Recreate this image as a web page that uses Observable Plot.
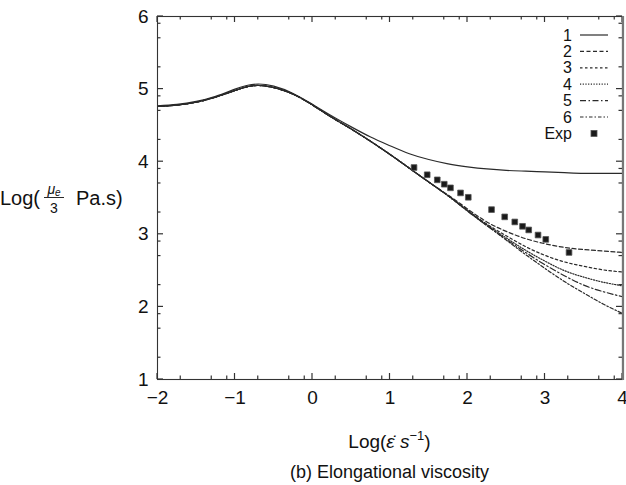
<!DOCTYPE html>
<html><head><meta charset="utf-8">
<script src="https://cdn.jsdelivr.net/npm/d3@7"></script>
<script src="https://cdn.jsdelivr.net/npm/@observablehq/plot@0.6"></script>
<style>
body{margin:0;background:#fff}
svg{display:block}
</style>
</head><body><div id="chart"></div>
<script>
// ---- data ----
const xs = [-2,-1.75,-1.5,-1.25,-1,-0.85,-0.7,-0.5,-0.25,0,0.25,0.5,0.75,1,1.25,1.5,1.75,2,2.25,2.5,2.75,3,3.25,3.5,3.75,4];
const curve1 = [4.77,4.79,4.83,4.90,5.00,5.05,5.07,5.04,4.94,4.79,4.63,4.48,4.34,4.22,4.11,4.03,3.97,3.93,3.90,3.88,3.87,3.86,3.85,3.84,3.84,3.84];
const curve2 = [4.76,4.78,4.82,4.89,4.98,5.03,5.05,5.02,4.93,4.78,4.61,4.45,4.28,4.10,3.91,3.72,3.54,3.35,3.17,3.04,2.94,2.87,2.82,2.79,2.77,2.75];
const curve3 = [4.76,4.78,4.82,4.89,4.98,5.03,5.05,5.02,4.93,4.78,4.61,4.45,4.28,4.10,3.91,3.72,3.53,3.33,3.14,2.98,2.83,2.71,2.62,2.56,2.51,2.48];
const curve4 = [4.76,4.78,4.82,4.89,4.98,5.03,5.05,5.02,4.93,4.78,4.61,4.45,4.28,4.10,3.91,3.72,3.53,3.33,3.13,2.95,2.78,2.63,2.50,2.41,2.34,2.29];
const curve5 = [4.76,4.78,4.82,4.89,4.98,5.03,5.05,5.02,4.93,4.78,4.61,4.45,4.28,4.10,3.91,3.72,3.53,3.32,3.12,2.93,2.75,2.58,2.43,2.30,2.21,2.14];
const curve6 = [4.76,4.78,4.82,4.89,4.98,5.03,5.05,5.02,4.93,4.78,4.61,4.45,4.28,4.10,3.91,3.72,3.53,3.32,3.12,2.92,2.72,2.53,2.35,2.19,2.04,1.91];
const expX = [1.31,1.48,1.61,1.70,1.78,1.91,2.01,2.31,2.48,2.61,2.71,2.79,2.91,3.01,3.31];
const expY = [3.92,3.82,3.75,3.69,3.64,3.57,3.51,3.34,3.24,3.17,3.11,3.06,2.99,2.93,2.75];
const seriesNames = ["1","2","3","4","5","6"];
const expName = "Exp";
const xMajor = [-2,-1,0,1,2,3,4];
const yMajor = [1,2,3,4,5,6];
const xMinor = [-1.7,-1.3,-1.1,-0.7,-0.3,-0.1,0.3,0.7,0.9,1.3,1.7,1.9,2.3,2.7,2.9,3.3,3.7,3.9];
const yMinor = [1.3,1.7,1.9,2.3,2.7,2.9,3.3,3.7,3.9,4.3,4.7,4.9,5.3,5.7,5.9];

// ---- styles ----
const FONT = '"Liberation Sans", Arial, Helvetica, sans-serif';
const INK = "#2a2a2a";
const dashes = [null, "4,2.5", "2.5,2.5", "1.2,1.5", "6,2.5,1.5,2.5", "3.5,2,1.5,2"];
const curves = [curve1, curve2, curve3, curve4, curve5, curve6];

const exp = expX.map((x, i) => ({x, y: expY[i]}));
const fmt = d => String(d).replace("-", "−");

const chart = Plot.plot({
  width: 626, height: 485,
  marginTop: 16, marginBottom: 106, marginLeft: 157, marginRight: 4,
  x: {domain: [-2, 4]},
  y: {domain: [1, 6]},
  style: {fontFamily: FONT, fontSize: "18px", color: "#111", background: "#fff", overflow: "visible"},
  marks: [
    ...curves.map((c, k) => Plot.line(xs.map((x, i) => ({x, y: c[i]})), {
      x: "x", y: "y", stroke: INK, strokeWidth: 1.2, strokeDasharray: dashes[k], curve: "natural"
    })),
    Plot.dot(exp, {x: "x", y: "y", symbol: "square", r: 3.2, fill: "#1a1a1a", stroke: "#555", strokeWidth: 0.8}),
    Plot.axisX({anchor: "bottom", ticks: xMajor, tickSize: 0, tickPadding: 11, tickFormat: fmt, label: null, fontSize: 19}),
    Plot.axisY({anchor: "left", ticks: yMajor, tickSize: 0, tickPadding: 9, tickFormat: fmt, label: null, fontSize: 19}),
    Plot.frame({stroke: "#333", strokeWidth: 1.1})
  ]
});
document.getElementById("chart").append(chart);

const svg = d3.select(chart);
const sx = chart.scale("x");
const sy = chart.scale("y");
const L = sx.apply(-2), R = sx.apply(4), T = sy.apply(6), B = sy.apply(1);
const cx = (L + R) / 2, cy = (T + B) / 2;

// inward ticks on all four sides
const tg = svg.append("g").attr("stroke", "#333").attr("stroke-width", 1.2);
const tick = (x1, y1, x2, y2) => tg.append("line").attr("x1", x1).attr("y1", y1).attr("x2", x2).attr("y2", y2);
xMajor.forEach(v => { const p = sx.apply(v); tick(p, B, p, B - 6); tick(p, T, p, T + 6); });
xMinor.forEach(v => { const p = sx.apply(v); tick(p, B, p, B - 3.5); tick(p, T, p, T + 3.5); });
yMajor.forEach(v => { const p = sy.apply(v); tick(L, p, L + 6, p); tick(R, p, R - 6, p); });
yMinor.forEach(v => { const p = sy.apply(v); tick(L, p, L + 3.5, p); tick(R, p, R - 3.5, p); });
// thicker grey right border as in the scan
svg.append("line").attr("x1", R + 1).attr("x2", R + 1).attr("y1", T).attr("y2", B + 1)
  .attr("stroke", "#777").attr("stroke-width", 2.2);

// y-axis title: Log( μe/3 Pa.s)
const yt = svg.append("g").attr("font-family", FONT).attr("fill", "#111").attr("text-anchor", "start");
yt.append("text").attr("x", 0).attr("y", cy + 7).attr("font-size", 20).text("Log(");
const fr = yt.append("text").attr("x", 54).attr("y", cy - 4).attr("font-size", 14).attr("text-anchor", "middle");
fr.append("tspan").attr("font-style", "italic").text("μ");
fr.append("tspan").attr("font-style", "italic").attr("font-size", 10).attr("dy", 2).text("e");
yt.append("line").attr("x1", 44).attr("x2", 64).attr("y1", cy).attr("y2", cy).attr("stroke", "#111").attr("stroke-width", 0.9);
yt.append("text").attr("x", 54).attr("y", cy + 15).attr("font-size", 14).attr("text-anchor", "middle").text("3");
yt.append("text").attr("x", 76).attr("y", cy + 7).attr("font-size", 20).text("Pa.s)");

// x-axis title: Log(ε̇ s^-1)
const xt = svg.append("text").attr("x", cx).attr("y", B + 69).attr("font-family", FONT)
  .attr("font-size", 19).attr("text-anchor", "middle").attr("fill", "#111");
xt.append("tspan").text("Log(");
xt.append("tspan").attr("font-style", "italic").text("ε̇");
xt.append("tspan").text(" ");
xt.append("tspan").attr("font-style", "italic").text("s");
xt.append("tspan").attr("font-size", 13).attr("dy", -8).text("−1");
xt.append("tspan").attr("dy", 8).text(")");

// caption
svg.append("text").attr("x", cx).attr("y", B + 99).attr("font-family", FONT)
  .attr("font-size", 18).attr("text-anchor", "middle").attr("fill", "#111")
  .text("(b) Elongational viscosity");

// legend
const lg = svg.append("g").attr("font-family", FONT).attr("font-size", 16).attr("fill", "#111");
const legendNames = [...seriesNames, expName];
legendNames.forEach((name, i) => {
  const y = 35 + i * 16.4;
  lg.append("text").attr("x", 572).attr("y", y + 5.5).attr("text-anchor", "end").text(name);
  if (i < seriesNames.length) {
    lg.append("line").attr("x1", 580).attr("x2", 608).attr("y1", y).attr("y2", y)
      .attr("stroke", INK).attr("stroke-width", 1.2).attr("stroke-dasharray", dashes[i]);
  } else {
    lg.append("rect").attr("x", 591).attr("y", y - 3).attr("width", 6).attr("height", 6)
      .attr("fill", "#1a1a1a").attr("stroke", "#555").attr("stroke-width", 0.8);
  }
});
</script>
</body></html>
